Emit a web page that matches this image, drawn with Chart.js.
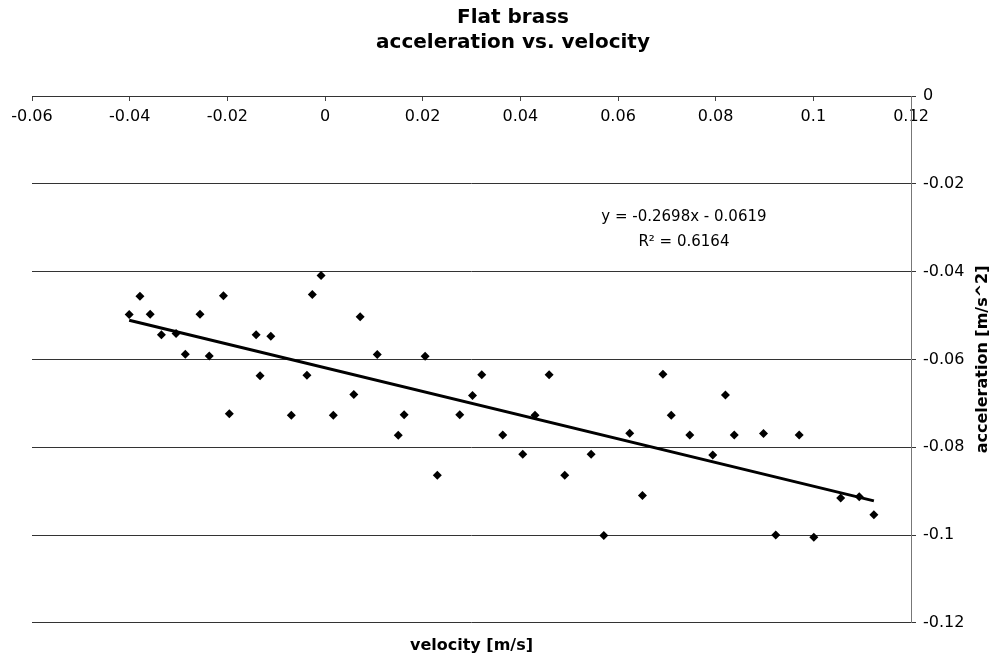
<!DOCTYPE html>
<html>
<head>
<meta charset="utf-8">
<title>Flat brass</title>
<script src="https://cdn.jsdelivr.net/npm/chart.js@4.4.0/dist/chart.umd.min.js"></script>
<style>
body { margin: 0; background: #fff; }
canvas { display: block; }
</style>
</head>
<body>
<canvas id="myChart" width="994" height="658"></canvas>
<script>
var velocity = [
  -0.0401, -0.0379, -0.0358, -0.0335, -0.0305, -0.0286, -0.0256, -0.0237, -0.0208, -0.0196,
  -0.0141, -0.0133, -0.0111, -0.0069, -0.0037, -0.0026, -0.0008, 0.0017, 0.0059, 0.0072,
  0.0107, 0.0150, 0.0162, 0.0205, 0.0276, 0.0302, 0.0321, 0.0230, 0.0364, 0.0405,
  0.0430, 0.0459, 0.0491, 0.0545, 0.0571, 0.0624, 0.0650, 0.0692, 0.0709, 0.0747,
  0.0794, 0.0820, 0.0838, 0.0898, 0.0923, 0.0971, 0.1001, 0.1056, 0.1094, 0.1124
];
var acceleration = [
  -0.0498, -0.0456, -0.0497, -0.0544, -0.0541, -0.0588, -0.0497, -0.0592, -0.0455, -0.0724,
  -0.0544, -0.0637, -0.0547, -0.0727, -0.0636, -0.0452, -0.0409, -0.0727, -0.0680, -0.0503,
  -0.0589, -0.0773, -0.0726, -0.0593, -0.0726, -0.0682, -0.0635, -0.0864, -0.0772, -0.0816,
  -0.0727, -0.0635, -0.0864, -0.0816, -0.1001, -0.0768, -0.0910, -0.0634, -0.0727, -0.0772,
  -0.0818, -0.0681, -0.0772, -0.0769, -0.1000, -0.0772, -0.1005, -0.0916, -0.0913, -0.0954
];

// trendline from the equation shown on the chart
var slope = -0.2698;
var intercept = -0.0619;
var rSquared = 0.6164;

var xRange = [-0.06, 0.12];
var yRange = [-0.12, 0];
var tickStep = 0.02;

var points = velocity.map(function(v, i){ return {x: v, y: acceleration[i]}; });
var vMin = Math.min.apply(null, velocity);
var vMax = Math.max.apply(null, velocity);
var trend = [
  {x: vMin, y: slope * vMin + intercept},
  {x: vMax, y: slope * vMax + intercept}
];

function fmt(v){ return String(+v.toFixed(2)); }

var extraText = {
  id: 'extraText',
  afterDraw: function(chart){
    var ctx = chart.ctx, a = chart.chartArea;
    var xs = chart.scales.x, ys = chart.scales.y;
    ctx.save();
    ctx.fillStyle = '#000';
    ctx.textAlign = 'center';
    ctx.textBaseline = 'middle';
    ctx.font = '15px "DejaVu Sans"';
    var ex = xs.getPixelForValue(0.0735), ey = ys.getPixelForValue(-0.0275);
    ctx.fillText('y = ' + slope + 'x - ' + Math.abs(intercept), ex, ey);
    ctx.fillText('R\u00B2 = ' + rSquared, ex, ey + 25);
    // y axis title, reading bottom to top
    ctx.font = 'bold 16px "DejaVu Sans"';
    ctx.translate(983, (a.top + a.bottom) / 2);
    ctx.rotate(-Math.PI / 2);
    ctx.fillText('acceleration [m/s^2]', 0, 0);
    ctx.restore();
  }
};

Chart.defaults.font.family = '"DejaVu Sans", Verdana, sans-serif';
Chart.defaults.color = '#000';

var ctx = document.getElementById('myChart').getContext('2d');
var myChart = new Chart(ctx, {
  type: 'scatter',
  data: {
    datasets: [{
      label: 'data',
      data: points,
      pointStyle: 'rectRot',
      pointRadius: 4.5,
      backgroundColor: '#000',
      borderWidth: 0,
      order: 2
    }, {
      type: 'line',
      label: 'trend',
      data: trend,
      borderColor: '#000',
      borderWidth: 3,
      pointRadius: 0,
      fill: false,
      order: 1
    }]
  },
  options: {
    responsive: false,
    animation: false,
    layout: { padding: { left: 32, right: 0, top: 0, bottom: 0 } },
    plugins: {
      legend: { display: false },
      tooltip: { enabled: false },
      title: {
        display: true,
        text: ['Flat brass', 'acceleration vs. velocity'],
        font: { size: 20, weight: 'bold', lineHeight: 1.25 },
        color: '#000',
        padding: { top: 5, bottom: 41 }
      }
    },
    scales: {
      x: {
        type: 'linear',
        position: { y: 0 },
        min: xRange[0], max: xRange[1],
        grid: { drawOnChartArea: false, drawTicks: true, tickLength: 4, color: '#444' },
        border: { display: true, color: '#333' },
        ticks: { stepSize: tickStep, padding: 7, font: { size: 16 }, callback: fmt, maxRotation: 0, autoSkip: false }
      },
      x2: {
        type: 'linear',
        position: 'bottom',
        min: xRange[0], max: xRange[1],
        grid: { display: false, drawTicks: false },
        border: { display: false },
        ticks: { display: false },
        title: { display: true, text: 'velocity [m/s]', font: { size: 16, weight: 'bold' }, padding: { top: 13, bottom: 3 } }
      },
      y: {
        type: 'linear',
        position: 'right',
        min: yRange[0], max: yRange[1],
        afterFit: function(scale){ scale.width = 83; },
        grid: { color: '#333', tickLength: 5 },
        border: { display: true, color: '#777' },
        ticks: { stepSize: tickStep, padding: 7, font: { size: 16 }, callback: fmt }
      }
    }
  },
  plugins: [extraText]
});
</script>
</body>
</html>
